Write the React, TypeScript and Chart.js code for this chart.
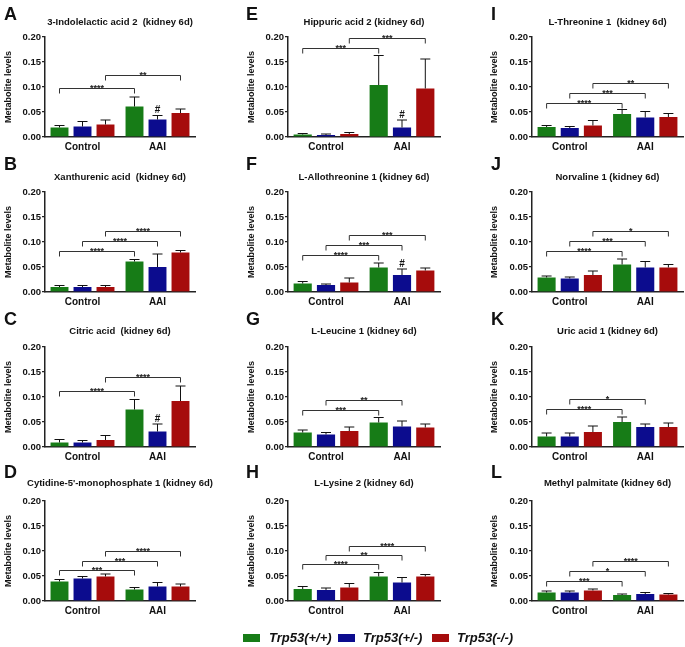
import React, { useEffect, useRef } from "react";
import { Chart, registerables } from "chart.js";

Chart.register(...registerables);

const FONT = "'Liberation Sans', Arial, Helvetica, sans-serif";

const categories = ["Control", "AAI"];
const genotypes = ["Trp53(+/+)", "Trp53(+/-)", "Trp53(-/-)"];
const colors = ["#177c17", "#0c0c8e", "#a60c0c"];
const yTickValues = [0, 0.05, 0.1, 0.15, 0.2];

const panelLetters = ["A", "B", "C", "D", "E", "F", "G", "H", "I", "J", "K", "L"];
const panelTitles = [
  "3-Indolelactic acid 2  (kidney 6d)",
  "Xanthurenic acid  (kidney 6d)",
  "Citric acid  (kidney 6d)",
  "Cytidine-5'-monophosphate 1 (kidney 6d)",
  "Hippuric acid 2 (kidney 6d)",
  "L-Allothreonine 1 (kidney 6d)",
  "L-Leucine 1 (kidney 6d)",
  "L-Lysine 2 (kidney 6d)",
  "L-Threonine 1  (kidney 6d)",
  "Norvaline 1 (kidney 6d)",
  "Uric acid 1 (kidney 6d)",
  "Methyl palmitate (kidney 6d)",
];

// means[genotype] = [Control, AAI]; sems likewise; brackets = [genotype, y, label]; hash = genotypes marked # in AAI
const A_means = [[0.019, 0.061], [0.021, 0.035], [0.025, 0.048]];
const A_sems = [[0.004, 0.019], [0.010, 0.008], [0.009, 0.008]];
const A_brackets: [number, number, string][] = [[0, 0.099, "****"], [2, 0.125, "**"]];
const A_hash = [1];

const B_means = [[0.010, 0.061], [0.010, 0.050], [0.010, 0.079]];
const B_sems = [[0.003, 0.004], [0.003, 0.026], [0.003, 0.004]];
const B_brackets: [number, number, string][] = [[0, 0.083, "****"], [1, 0.103, "****"], [2, 0.123, "****"]];
const B_hash: number[] = [];

const C_means = [[0.009, 0.075], [0.009, 0.031], [0.014, 0.092]];
const C_sems = [[0.006, 0.020], [0.004, 0.015], [0.009, 0.030]];
const C_brackets: [number, number, string][] = [[0, 0.112, "****"], [2, 0.140, "****"]];
const C_hash = [1];

const D_means = [[0.039, 0.023], [0.045, 0.029], [0.049, 0.029]];
const D_sems = [[0.004, 0.004], [0.004, 0.008], [0.005, 0.005]];
const D_brackets: [number, number, string][] = [[0, 0.063, "***"], [1, 0.080, "***"], [2, 0.100, "****"]];
const D_hash: number[] = [];

const E_means = [[0.005, 0.104], [0.004, 0.019], [0.006, 0.097]];
const E_sems = [[0.002, 0.059], [0.002, 0.015], [0.003, 0.059]];
const E_brackets: [number, number, string][] = [[0, 0.179, "***"], [2, 0.199, "***"]];
const E_hash = [1];

const F_means = [[0.017, 0.049], [0.014, 0.034], [0.019, 0.043]];
const F_sems = [[0.004, 0.009], [0.002, 0.012], [0.009, 0.005]];
const F_brackets: [number, number, string][] = [[0, 0.075, "****"], [1, 0.095, "***"], [2, 0.115, "***"]];
const F_hash = [1];

const G_means = [[0.029, 0.049], [0.025, 0.041], [0.032, 0.039]];
const G_sems = [[0.005, 0.010], [0.004, 0.011], [0.008, 0.007]];
const G_brackets: [number, number, string][] = [[0, 0.075, "***"], [1, 0.095, "**"]];
const G_hash: number[] = [];

const H_means = [[0.024, 0.049], [0.022, 0.037], [0.027, 0.049]];
const H_sems = [[0.005, 0.008], [0.004, 0.010], [0.008, 0.004]];
const H_brackets: [number, number, string][] = [[0, 0.075, "****"], [1, 0.092, "**"], [2, 0.111, "****"]];
const H_hash: number[] = [];

const I_means = [[0.020, 0.046], [0.018, 0.039], [0.023, 0.040]];
const I_sems = [[0.003, 0.009], [0.003, 0.012], [0.010, 0.007]];
const I_brackets: [number, number, string][] = [[0, 0.068, "****"], [1, 0.088, "***"], [2, 0.108, "**"]];
const I_hash: number[] = [];

const J_means = [[0.029, 0.055], [0.027, 0.049], [0.034, 0.049]];
const J_sems = [[0.003, 0.011], [0.003, 0.012], [0.008, 0.006]];
const J_brackets: [number, number, string][] = [[0, 0.083, "****"], [1, 0.103, "***"], [2, 0.122, "*"]];
const J_hash: number[] = [];

const K_means = [[0.021, 0.050], [0.021, 0.040], [0.030, 0.040]];
const K_sems = [[0.007, 0.010], [0.007, 0.006], [0.012, 0.008]];
const K_brackets: [number, number, string][] = [[0, 0.076, "****"], [1, 0.096, "*"]];
const K_hash: number[] = [];

const L_means = [[0.017, 0.012], [0.017, 0.014], [0.021, 0.013]];
const L_sems = [[0.003, 0.002], [0.003, 0.003], [0.003, 0.002]];
const L_brackets: [number, number, string][] = [[0, 0.041, "***"], [1, 0.061, "*"], [2, 0.080, "****"]];
const L_hash: number[] = [];

const allMeans = [A_means, B_means, C_means, D_means, E_means, F_means, G_means, H_means, I_means, J_means, K_means, L_means];
const allSems = [A_sems, B_sems, C_sems, D_sems, E_sems, F_sems, G_sems, H_sems, I_sems, J_sems, K_sems, L_sems];
const allBrackets = [A_brackets, B_brackets, C_brackets, D_brackets, E_brackets, F_brackets, G_brackets, H_brackets, I_brackets, J_brackets, K_brackets, L_brackets];
const allHash = [A_hash, B_hash, C_hash, D_hash, E_hash, F_hash, G_hash, H_hash, I_hash, J_hash, K_hash, L_hash];

// layout
const colX = [0, 230, 455];
const colW = [230, 225, 230];
const axisLeft = [45, 58, 77];
const axisRight = [195, 210, 228];
const yTitleX = [9, 22, 40];
const letterX = [4, 16, 36];
const rowY = [0, 155, 310, 464];
const titleY = [22, 22, 21, 19];
const letterBase = [20, 15, 15, 14];
const PANEL_H = 155;

function Panel({ index }: { index: number }) {
  const ref = useRef<HTMLCanvasElement>(null);
  const col = Math.floor(index / 4);
  const row = index % 4;
  const W = colW[col];

  useEffect(() => {
    const means = allMeans[index];
    const sems = allSems[index];
    const brackets = allBrackets[index];
    const hashes = allHash[index];

    const overlay = {
      id: "overlay" + index,
      afterDraw(chart: any) {
        const ctx = chart.ctx as CanvasRenderingContext2D;
        const y = chart.scales.y;
        ctx.save();
        // error bars
        ctx.strokeStyle = "#111";
        ctx.lineWidth = 1;
        for (let g = 0; g < genotypes.length; g++) {
          const meta = chart.getDatasetMeta(g);
          for (let c = 0; c < categories.length; c++) {
            const el = meta.data[c];
            const top = y.getPixelForValue(means[g][c] + sems[g][c]);
            ctx.beginPath();
            ctx.moveTo(el.x, el.y);
            ctx.lineTo(el.x, top);
            ctx.moveTo(el.x - 5, top);
            ctx.lineTo(el.x + 5, top);
            ctx.stroke();
          }
        }
        // brackets
        ctx.strokeStyle = "#333";
        ctx.fillStyle = "#222";
        ctx.lineWidth = 1;
        ctx.font = `bold 9px ${FONT}`;
        ctx.textAlign = "center";
        ctx.textBaseline = "alphabetic";
        for (const [g, v, label] of brackets) {
          const meta = chart.getDatasetMeta(g);
          const x1 = meta.data[0].x;
          const x2 = meta.data[1].x;
          const yy = Math.round(y.getPixelForValue(v)) + 0.5;
          ctx.beginPath();
          ctx.moveTo(x1, yy + 5);
          ctx.lineTo(x1, yy);
          ctx.lineTo(x2, yy);
          ctx.lineTo(x2, yy + 5);
          ctx.stroke();
          ctx.fillText(label, (x1 + x2) / 2, yy + 2.5);
        }
        // hash marks
        ctx.font = `bold 10px ${FONT}`;
        ctx.fillStyle = "#111";
        for (const g of hashes) {
          const el = chart.getDatasetMeta(g).data[1];
          const top = y.getPixelForValue(means[g][1] + sems[g][1]);
          ctx.fillText("#", el.x, top - 2.5);
        }
        // title
        ctx.font = `bold 9.5px ${FONT}`;
        ctx.textBaseline = "middle";
        ctx.fillText(panelTitles[index], (axisLeft[col] + axisRight[col]) / 2, titleY[row]);
        // panel letter
        ctx.font = `bold 18px ${FONT}`;
        ctx.textAlign = "left";
        ctx.textBaseline = "alphabetic";
        ctx.fillText(panelLetters[index], letterX[col], letterBase[row]);
        // y title
        ctx.translate(yTitleX[col], 87);
        ctx.rotate(-Math.PI / 2);
        ctx.font = `bold 9px ${FONT}`;
        ctx.textAlign = "center";
        ctx.textBaseline = "middle";
        ctx.fillText("Metabolite levels", 0, 0);
        ctx.restore();
      },
    };

    const chart = new Chart(ref.current!, {
      type: "bar",
      data: {
        labels: categories,
        datasets: genotypes.map((g, i) => ({
          label: g,
          data: means[i],
          backgroundColor: colors[i],
          borderWidth: 0,
          categoryPercentage: 0.92,
          barPercentage: 0.78,
        })),
      },
      options: {
        animation: false,
        responsive: false,
        layout: { padding: { top: 37, left: 0, right: W - axisRight[col], bottom: 0 } },
        plugins: {
          legend: { display: false },
          title: { display: false },
          tooltip: { enabled: false },
        },
        scales: {
          x: {
            type: "category",
            offset: true,
            grid: { display: false, drawTicks: false },
            border: { display: true, color: "#222", width: 1.5 },
            ticks: {
              font: { family: FONT, size: 10, weight: "bold" },
              color: "#111",
              padding: 4,
              maxRotation: 0,
              autoSkip: false,
            },
            afterFit: (s: any) => {
              s.height = 18;
            },
          },
          y: {
            min: 0,
            max: 0.2,
            afterBuildTicks: (s: any) => {
              s.ticks = yTickValues.map((v) => ({ value: v }));
            },
            ticks: {
              callback: (v: any) => Number(v).toFixed(2),
              font: { family: FONT, size: 9.5, weight: "bold" },
              color: "#111",
              padding: 1,
            },
            grid: { drawOnChartArea: false, drawTicks: true, tickLength: 3, color: "#222", lineWidth: 1.2 },
            border: { display: true, color: "#222", width: 1.5 },
            afterFit: (s: any) => {
              s.width = axisLeft[col];
            },
          },
        },
      } as any,
      plugins: [overlay],
    });
    return () => chart.destroy();
  }, []);

  return (
    <canvas
      ref={ref}
      width={W}
      height={PANEL_H}
      style={{ position: "absolute", left: colX[col], top: rowY[row], width: W, height: PANEL_H }}
    />
  );
}

const legendSquareX = [243, 338, 432];
const legendTextX = [269, 363, 457];

export default function App() {
  return (
    <div
      style={{
        position: "absolute",
        left: 0,
        top: 0,
        width: 685,
        height: 647,
        background: "#fff",
        overflow: "hidden",
      }}
    >
      {panelLetters.map((_, i) => (
        <Panel key={i} index={i} />
      ))}
      {genotypes.map((g, i) => (
        <React.Fragment key={g}>
          <div
            style={{
              position: "absolute",
              left: legendSquareX[i],
              top: 634,
              width: 17,
              height: 8,
              background: colors[i],
            }}
          />
          <div
            style={{
              position: "absolute",
              left: legendTextX[i],
              top: 631,
              lineHeight: "14px",
              fontFamily: FONT,
              fontSize: 13,
              fontWeight: "bold",
              fontStyle: "italic",
              color: "#111",
              whiteSpace: "nowrap",
            }}
          >
            {g}
          </div>
        </React.Fragment>
      ))}
    </div>
  );
}
